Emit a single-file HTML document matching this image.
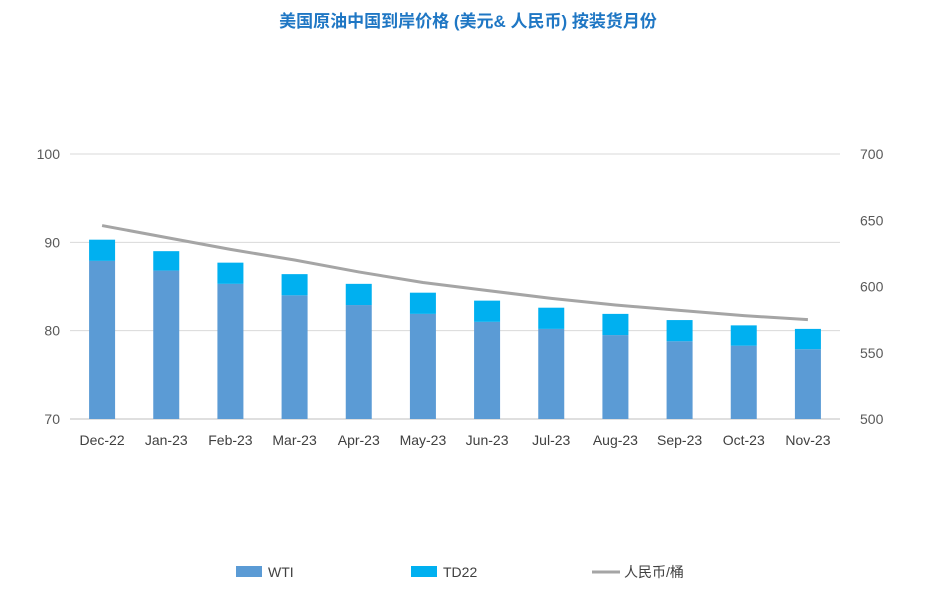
<!DOCTYPE html>
<html><head><meta charset="utf-8"><style>
body{margin:0;background:#fff;font-family:"Liberation Sans","Noto Sans CJK SC",sans-serif;}
svg text{font-family:"Liberation Sans","Noto Sans CJK SC",sans-serif;}
</style></head><body>
<svg id="c" width="937" height="601" xmlns="http://www.w3.org/2000/svg">
<text x="468" y="27" text-anchor="middle" font-size="17" font-weight="bold" fill="#1f77c4">美国原油中国到岸价格 (美元&amp; 人民币) 按装货月份</text>
<g id="grid"></g><g id="bars"></g><g id="line"></g><g id="axes"></g>
<g>
<rect x="236" y="566" width="26" height="11" fill="#5b9bd5"/>
<text x="268" y="577" font-size="14" fill="#404040">WTI</text>
<rect x="411" y="566" width="26" height="11" fill="#00b0f0"/>
<text x="443" y="577" font-size="14" fill="#404040">TD22</text>
<line x1="592" y1="572" x2="620" y2="572" stroke="#a5a5a5" stroke-width="3"/>
<text x="624" y="577" font-size="14" fill="#404040">人民币/桶</text>
</g>
</svg>
<script>
const categories=["Dec-22","Jan-23","Feb-23","Mar-23","Apr-23","May-23","Jun-23","Jul-23","Aug-23","Sep-23","Oct-23","Nov-23"];
const wti=[87.9,86.8,85.3,84.0,82.9,81.9,81.0,80.2,79.5,78.8,78.3,77.9];
const total=[90.3,89.0,87.7,86.4,85.3,84.3,83.4,82.6,81.9,81.2,80.6,80.2];
const rmb=[646,637,628,620,611,603,597,591,586,582,578,575];
const leftTicks=[70,80,90,100];
const rightTicks=[500,550,600,650,700];
const NS="http://www.w3.org/2000/svg";
const L=70,R=840,T=154,B=419;
const band=(R-L)/categories.length;
const xC=i=>L+band*(i+0.5);
const yL=v=>B-(v-70)/30*(B-T);
const yR=v=>B-(v-500)/200*(B-T);
function mk(p,tag,at){const e=document.createElementNS(NS,tag);for(const k in at)e.setAttribute(k,at[k]);document.getElementById(p).appendChild(e);return e;}
leftTicks.forEach(v=>{
 const g=mk('grid','line',{x1:L,x2:R,y1:yL(v),y2:yL(v),stroke:v==70?'#bfbfbf':'#d9d9d9','stroke-width':1});
 
 
 const t=mk('axes','text',{x:60,y:yL(v)+5,'text-anchor':'end','font-size':14,fill:'#595959'});t.textContent=v;
 
 
});
rightTicks.forEach(v=>{
 const t=mk('axes','text',{x:860,y:yR(v)+5,'font-size':14,fill:'#595959'});t.textContent=v;
 
 
});
const bw=26;
categories.forEach((c,i)=>{
 const x=xC(i)-bw/2;
 const b=mk('bars','rect',{x:x,y:yL(wti[i]),width:bw,height:B-yL(wti[i]),fill:'#5b9bd5'});
 
 
 const b2=mk('bars','rect',{x:x,y:yL(total[i]),width:bw,height:yL(wti[i])-yL(total[i]),fill:'#00b0f0'});
 
 
 const t=mk('axes','text',{x:xC(i),y:445,'text-anchor':'middle','font-size':14,fill:'#404040'});t.textContent=c;
 
 
});
const pl=mk('line','polyline',{points:rmb.map((v,i)=>xC(i)+','+yR(v)).join(' '),fill:'none',stroke:'#a5a5a5','stroke-width':3,'stroke-linejoin':'round'});


</script>
</body></html>
